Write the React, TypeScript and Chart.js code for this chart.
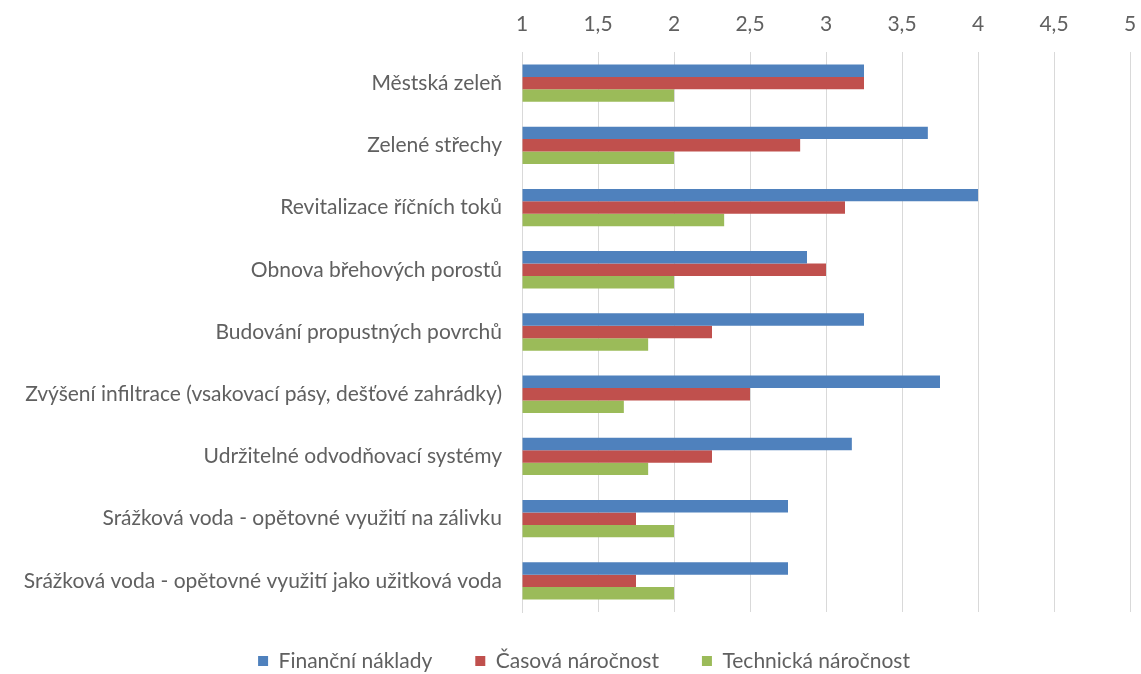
import React, { useEffect, useRef } from "react";
import { Chart, registerables } from "chart.js";

Chart.register(...registerables);

const CATEGORIES = [
  "Městská zeleň",
  "Zelené střechy",
  "Revitalizace říčních toků",
  "Obnova břehových porostů",
  "Budování propustných povrchů",
  "Zvýšení infiltrace (vsakovací pásy, dešťové zahrádky)",
  "Udržitelné odvodňovací systémy",
  "Srážková voda - opětovné využití na zálivku",
  "Srážková voda - opětovné využití jako užitková voda",
];

const FINANCNI = [3.25, 3.67, 4.0, 2.875, 3.25, 3.75, 3.17, 2.75, 2.75];
const CASOVA = [3.25, 2.83, 3.125, 3.0, 2.25, 2.5, 2.25, 1.75, 1.75];
const TECHNICKA = [2.0, 2.0, 2.33, 2.0, 1.83, 1.67, 1.83, 2.0, 2.0];

const SERIES_NAMES = ["Finanční náklady", "Časová náročnost", "Technická náročnost"];
const SERIES_COLORS = ["#4F81BD", "#C0504D", "#9BBB59"];

const X_TICKS = [1, 1.5, 2, 2.5, 3, 3.5, 4, 4.5, 5];

const FONT = "Lato, 'Open Sans', sans-serif";
const FONT_SIZE = 21;
const TEXT = "#606060";

// Places the legend row under the plot, a little right of the canvas centre.
const legendPlacement = {
  id: "legendPlacement",
  afterLayout(chart: any) {
    const lg = chart.legend;
    if (!lg) return;
    const pad = lg.options.labels.padding;
    const top = 661 - pad - FONT_SIZE / 2;
    lg.top = top;
    lg.bottom = chart.height;
    lg.height = lg.bottom - lg.top;
    lg.left = 0;
    lg.right = 1168;
    lg.width = lg.right - lg.left;
  },
};

export default function App() {
  const ref = useRef<HTMLCanvasElement>(null);

  useEffect(() => {
    if (!ref.current) return;
    const values = [FINANCNI, CASOVA, TECHNICKA];
    const chart = new Chart(ref.current, {
      type: "bar",
      data: {
        labels: CATEGORIES,
        datasets: values.map((d, i) => ({
          label: SERIES_NAMES[i],
          data: d,
          backgroundColor: SERIES_COLORS[i],
          borderWidth: 0,
          base: 1,
          barPercentage: 1,
          categoryPercentage: 0.6,
        })),
      },
      options: {
        indexAxis: "y",
        responsive: false,
        animation: false,
        layout: { padding: { left: 0, right: 11, top: 0, bottom: 1 } },
        plugins: {
          tooltip: { enabled: false },
          legend: {
            position: "bottom",
            maxHeight: 61,
            labels: {
              boxWidth: 10,
              boxHeight: 10,
              padding: 43,
              color: TEXT,
              font: { family: FONT, size: FONT_SIZE },
            },
          },
        },
        scales: {
          x: {
            position: "top",
            min: 1,
            max: 5,
            afterFit(scale: any) {
              scale.height = 52;
              scale.paddingLeft = 0;
              scale.paddingRight = 0;
            },
            afterBuildTicks(scale: any) {
              scale.ticks = X_TICKS.map((v) => ({ value: v }));
            },
            ticks: {
              padding: 15,
              color: TEXT,
              font: { family: FONT, size: FONT_SIZE },
              callback: (v: any) => String(v).replace(".", ","),
            },
            grid: { color: "#D9D9D9", drawTicks: false },
            border: { display: false },
          },
          y: {
            afterFit(scale: any) {
              scale.width = 522;
            },
            ticks: {
              padding: 20,
              color: TEXT,
              font: { family: FONT, size: FONT_SIZE },
            },
            grid: { display: false, drawTicks: false },
            border: { display: true, color: "#D9D9D9" },
          },
        },
      },
      plugins: [legendPlacement],
    });
    return () => chart.destroy();
  }, []);

  return (
    <div style={{ position: "fixed", left: 0, top: 0, width: 1141, height: 674, background: "#fff" }}>
      <canvas ref={ref} width={1141} height={674} />
    </div>
  );
}
